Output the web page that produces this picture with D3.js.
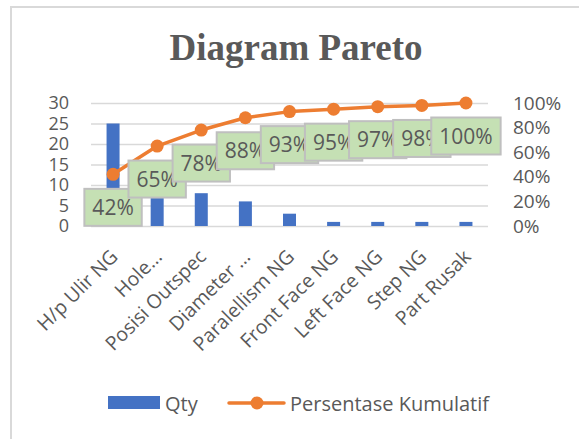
<!DOCTYPE html>
<html>
<head>
<meta charset="utf-8">
<script src="https://cdn.jsdelivr.net/npm/d3@7"></script>
<style>
  body { margin: 0; background: #fff; }
  text { font-family: "Open Sans", "Noto Sans", sans-serif; fill: #595959; }
</style>
</head>
<body>
<script>
// data
const categories = ["H/p Ulir NG", "Hole\u2026", "Posisi Outspec", "Diameter \u2026", "Paralellism NG",
  "Front Face NG", "Left Face NG", "Step NG", "Part Rusak"];
const qty = [25, 14, 8, 6, 3, 1, 1, 1, 1];
const cumPct = [42, 65, 78, 88, 93, 95, 97, 98, 100];
const leftTicks = [0, 5, 10, 15, 20, 25, 30];
const rightTicks = [0, 20, 40, 60, 80, 100];

const W = 579, H = 439;
const plot = {left: 91, right: 488, top: 103, bottom: 226};

const svg = d3.select("body").append("svg")
  .attr("width", W)
  .attr("height", H);

// chart border
svg.append("rect")
  .attr("x", 11).attr("y", 7)
  .attr("width", 600).attr("height", 500)
  .attr("fill", "#fff")
  .attr("stroke", "#d9d9d9")
  .attr("stroke-width", 2);

svg.append("text")
  .attr("x", 296).attr("y", 60)
  .attr("text-anchor", "middle")
  .style("font-family", "'Liberation Serif', 'Times New Roman', serif")
  .style("font-weight", "bold")
  .style("font-size", "37px")
  .text("Diagram Pareto");

const x = d3.scaleBand()
  .domain(categories)
  .range([plot.left, plot.right]);

const yL = d3.scaleLinear().domain([0, 30]).range([plot.bottom, plot.top]);
const yR = d3.scaleLinear().domain([0, 100]).range([plot.bottom, plot.top]);

// grid
const grid = svg.append("g")
  .attr("transform", "translate(" + plot.left + ",0)")
  .call(d3.axisLeft(yL).tickValues(leftTicks).tickSize(-(plot.right - plot.left)).tickFormat(""));
grid.select(".domain").remove();
grid.selectAll("line").attr("stroke", "#d9d9d9").attr("stroke-width", 1.3);

// left axis labels
const gL = svg.append("g")
  .attr("transform", "translate(" + plot.left + ",0)")
  .call(d3.axisLeft(yL).tickValues(leftTicks).tickSize(0).tickPadding(22));
gL.select(".domain").remove();
gL.selectAll("text").style("font-size", "18px").attr("fill", "#595959");

// right axis labels
const gR = svg.append("g")
  .attr("transform", "translate(" + plot.right + ",0)")
  .call(d3.axisRight(yR).tickValues(rightTicks).tickSize(0).tickPadding(25).tickFormat(d => d + "%"));
gR.select(".domain").remove();
gR.selectAll("text").style("font-size", "19px").attr("fill", "#595959");

// bars
const barW = 13;
svg.append("g").selectAll("rect")
  .data(qty)
  .join("rect")
  .attr("x", (d, i) => x(categories[i]) + x.bandwidth() / 2 - barW / 2)
  .attr("y", d => yL(d))
  .attr("width", barW)
  .attr("height", d => plot.bottom - yL(d))
  .attr("fill", "#4472c4");

// x labels
svg.append("g").selectAll("text")
  .data(categories)
  .join("text")
  .attr("text-anchor", "end")
  .attr("transform", d => "translate(" + (x(d) + x.bandwidth() / 2 + 6) + ",258) rotate(-45)")
  .style("font-size", "19.5px")
  .text(d => d);

// cumulative line
const cx = (d, i) => x(categories[i]) + x.bandwidth() / 2;
const line = d3.line()
  .x(cx)
  .y(d => yR(d));

svg.append("path")
  .datum(cumPct)
  .attr("d", line)
  .attr("fill", "none")
  .attr("stroke", "#ed7d31")
  .attr("stroke-width", 3.5)
  .attr("stroke-linejoin", "round");

svg.append("g").selectAll("circle")
  .data(cumPct)
  .join("circle")
  .attr("cx", cx)
  .attr("cy", d => yR(d))
  .attr("r", 6.5)
  .attr("fill", "#ed7d31");

// data labels
const labels = svg.append("g");
cumPct.forEach((d, i) => {
  const g = labels.append("g")
    .attr("transform", "translate(" + cx(d, i) + "," + (yR(d) + 33) + ")");
  const box = g.append("rect");
  const t = g.append("text")
    .attr("text-anchor", "middle")
    .attr("dy", "0.36em")
    .style("font-size", "21px")
    .text(d + "%");
  const tw = t.node().getComputedTextLength() + 16;
  box.attr("x", -tw / 2).attr("y", -18.5)
    .attr("width", tw).attr("height", 37)
    .attr("fill", "#c5e0b4")
    .attr("stroke", "#bfbfbf")
    .attr("stroke-width", 2);
});

// legend
const lg = svg.append("g");
lg.append("rect")
  .attr("x", 108).attr("y", 396)
  .attr("width", 52).attr("height", 13)
  .attr("fill", "#4472c4");
lg.append("text")
  .attr("x", 165).attr("y", 411)
  .style("font-size", "20px")
  .text("Qty");
lg.append("line")
  .attr("x1", 229).attr("x2", 284)
  .attr("y1", 403).attr("y2", 403)
  .attr("stroke", "#ed7d31")
  .attr("stroke-width", 3.5)
  .attr("stroke-linecap", "round");
lg.append("circle")
  .attr("cx", 257).attr("cy", 403)
  .attr("r", 6.5)
  .attr("fill", "#ed7d31");
lg.append("text")
  .attr("x", 290).attr("y", 411)
  .style("font-size", "20px")
  .text("Persentase Kumulatif");
</script>
</body>
</html>
